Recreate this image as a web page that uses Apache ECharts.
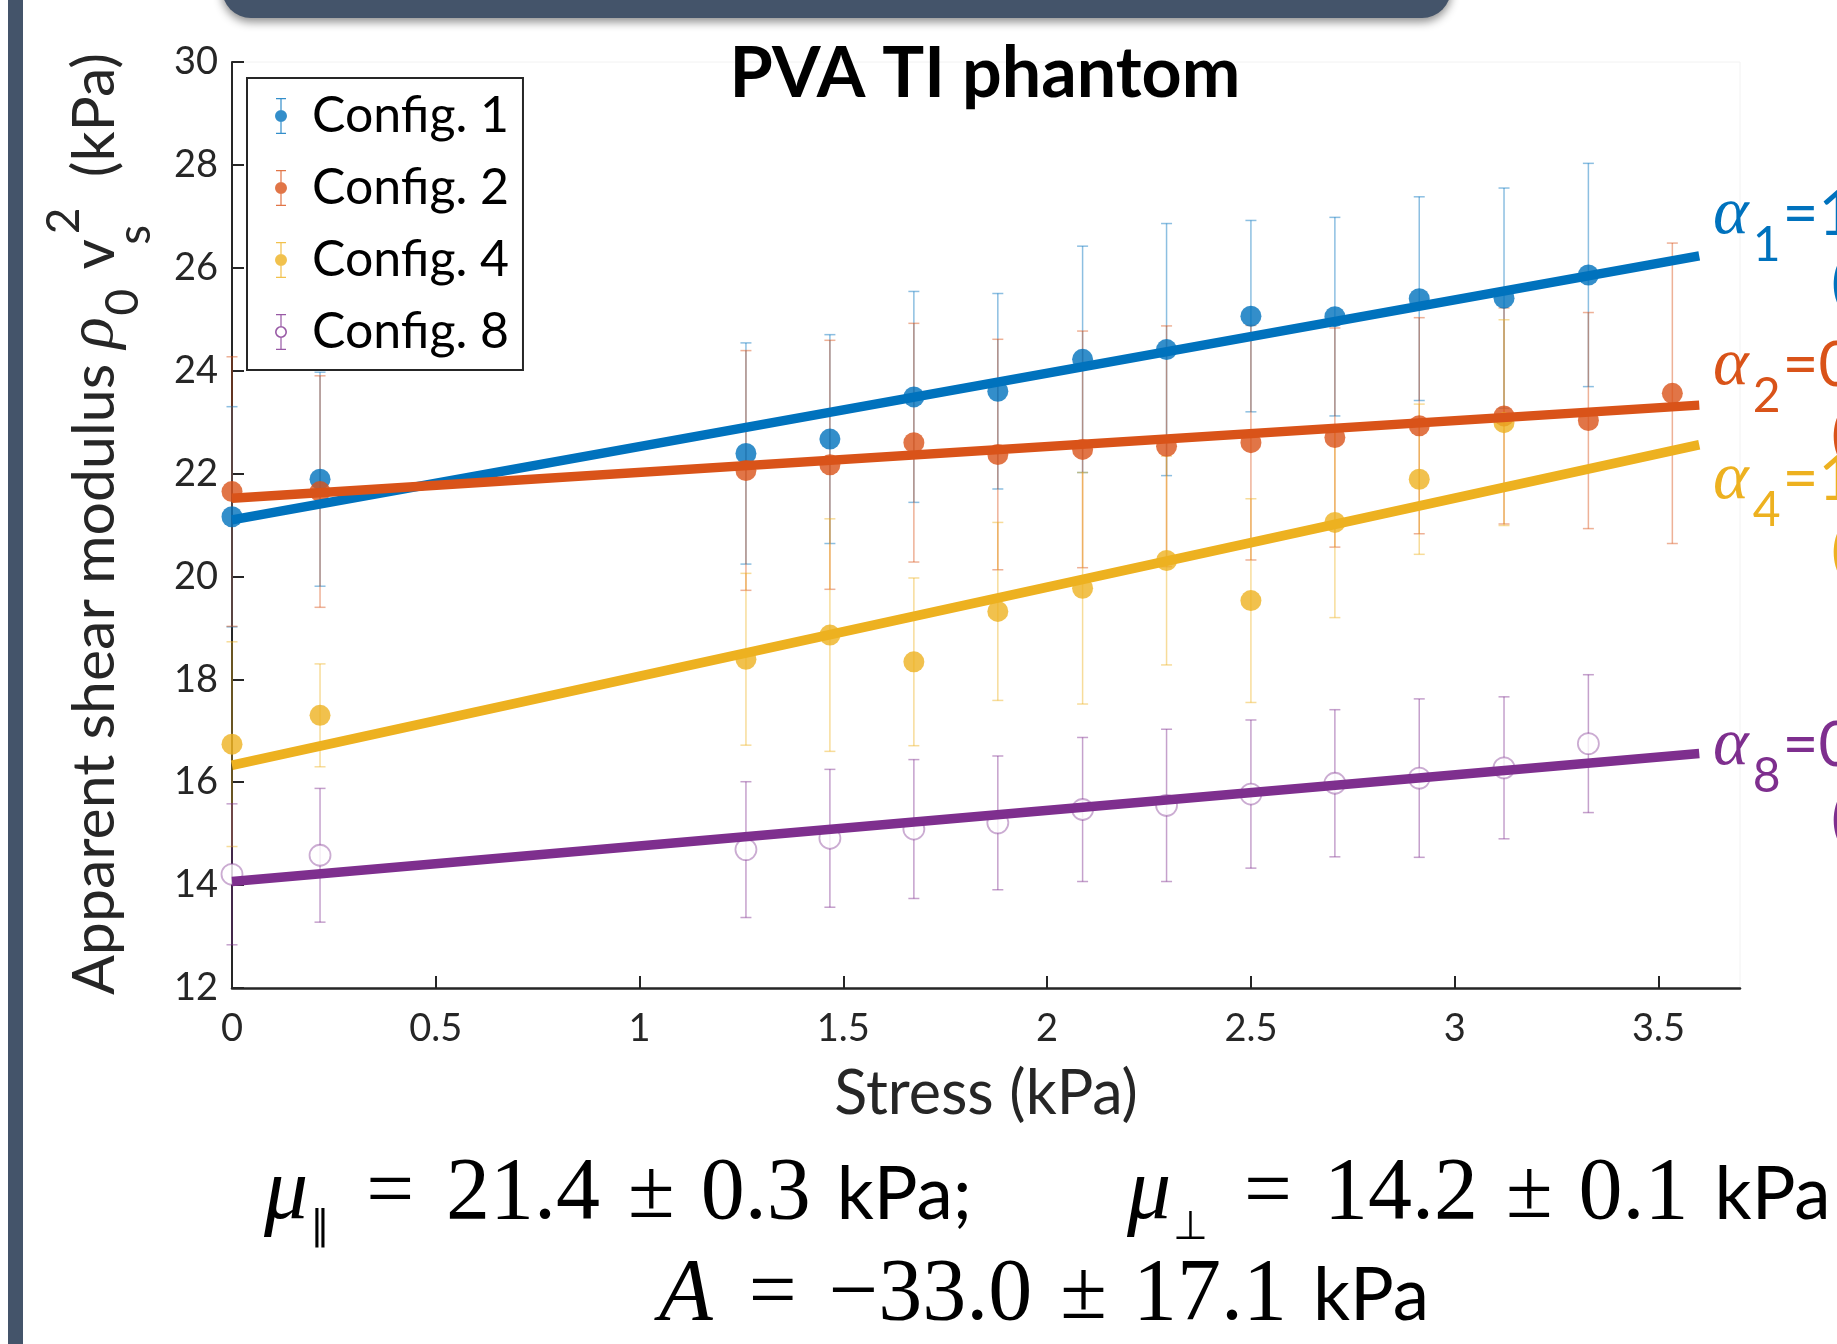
<!DOCTYPE html>
<html>
<head>
<meta charset="utf-8">
<title>PVA TI phantom</title>
<script src="https://cdn.jsdelivr.net/npm/echarts@6/dist/echarts.min.js"></script>
<style>
  html, body { margin: 0; padding: 0; background: #fff; }
  #chart { width: 1837px; height: 1344px; }
</style>
</head>
<body>
<div id="chart"></div>
<script>
// stress levels (kPa) shared by all configurations
const stress = [0, 0.216, 1.261, 1.467, 1.673, 1.879, 2.087, 2.293, 2.5, 2.706, 2.913, 3.121, 3.328, 3.534];

// apparent shear modulus (kPa) and its error, per configuration
const c1Mean = [21.16, 21.89, 22.39, 22.67, 23.49, 23.60, 24.22, 24.41, 25.06, 25.05, 25.40, 25.41, 25.86];
const c1Err  = [2.14, 2.08, 2.15, 2.03, 2.05, 1.90, 2.20, 2.45, 1.86, 1.93, 1.98, 2.14, 2.17];
const c2Mean = [21.65, 21.65, 22.06, 22.17, 22.60, 22.37, 22.47, 22.53, 22.60, 22.70, 22.93, 23.12, 23.03, 23.56];
const c2Err  = [2.62, 2.25, 2.33, 2.42, 2.32, 2.24, 2.30, 2.34, 2.28, 2.13, 2.10, 2.10, 2.10, 2.92];
const c4Mean = [16.74, 17.30, 18.39, 18.86, 18.34, 19.32, 19.77, 20.31, 19.53, 21.05, 21.89, 22.99];
const c4Err  = [1.99, 1.00, 1.67, 2.26, 1.63, 1.73, 2.25, 2.03, 1.98, 1.85, 1.46, 2.00];
const c8Mean = [14.21, 14.58, 14.69, 14.91, 15.09, 15.21, 15.47, 15.55, 15.77, 15.98, 16.08, 16.28, 16.75];
const c8Err  = [1.37, 1.30, 1.32, 1.34, 1.35, 1.30, 1.40, 1.48, 1.44, 1.43, 1.54, 1.38, 1.34];

// linear fits, evaluated at the ends of the fitted range
const fitX = [0, 3.6];
const fit1 = [21.10, 26.23];
const fit2 = [21.52, 23.33];
const fit4 = [16.33, 22.56];
const fit8 = [14.07, 16.56];

const configNames = ['Config. 1', 'Config. 2', 'Config. 4', 'Config. 8'];
const alphaSubs = ['1', '2', '4', '8'];
const alphaTails = ['=1', '=0', '=1', '=0'];
const xTicks = [0, 0.5, 1, 1.5, 2, 2.5, 3, 3.5];

const colors = ['#0072BD', '#D95319', '#EDB120', '#7E2F8E'];
const barColors = ['rgba(0,114,189,0.45)', 'rgba(217,83,25,0.45)', 'rgba(237,177,32,0.45)', 'rgba(126,47,142,0.45)'];

const means = [c1Mean, c2Mean, c4Mean, c8Mean];
const errs = [c1Err, c2Err, c4Err, c8Err];
const fits = [fit1, fit2, fit4, fit8];

// errorbar glyph for the legend (solid and hollow marker)
const solidIcon = 'path://M1,0H11V1.2H1Z M5.4,0H6.6V36H5.4Z M1,34.8H11V36H1Z M6,12A6,6 0 1,1 6,24A6,6 0 1,1 6,12Z';
const hollowIcon = 'path://M1,0H11V1.2H1Z M5.4,0H6.6V12H5.4Z M5.4,24H6.6V36H5.4Z M1,34.8H11V36H1Z ' +
  'M6,12A6,6 0 1,1 6,24A6,6 0 1,1 6,12Z M6,13.6A4.4,4.4 0 1,0 6,22.4A4.4,4.4 0 1,0 6,13.6Z';

function errorBars(color) {
  return function (params, api) {
    const x = api.value(0), y = api.value(1), e = api.value(2);
    const top = api.coord([x, y + e]);
    const bot = api.coord([x, y - e]);
    const cw = 5.5;
    const style = { stroke: color, lineWidth: 1.5 };
    return {
      type: 'group',
      children: [
        { type: 'line', shape: { x1: top[0], y1: top[1], x2: bot[0], y2: bot[1] }, style: style },
        { type: 'line', shape: { x1: top[0] - cw, y1: top[1], x2: top[0] + cw, y2: top[1] }, style: style },
        { type: 'line', shape: { x1: bot[0] - cw, y1: bot[1], x2: bot[0] + cw, y2: bot[1] }, style: style }
      ]
    };
  };
}

const series = [];
configNames.forEach(function (name, i) {
  const pts = means[i].map(function (m, j) { return [stress[j], m, errs[i][j]]; });
  series.push({
    name: name + ' err',
    type: 'custom',
    renderItem: errorBars(barColors[i]),
    encode: { x: 0, y: 1 },
    data: pts,
    silent: true
  });
  series.push({
    name: name,
    type: 'scatter',
    symbol: 'circle',
    symbolSize: 21,
    itemStyle: i === 3
      ? { color: '#fff', borderColor: 'rgba(126,47,142,0.5)', borderWidth: 1.8 }
      : { color: colors[i] },
    data: pts.map(function (p) { return [p[0], p[1]]; })
  });
  series.push({
    name: name + ' fit',
    type: 'line',
    showSymbol: false,
    lineStyle: { color: colors[i], width: 9.5 },
    data: fitX.map(function (x, k) { return [x, fits[i][k]]; })
  });
});

// right-hand annotations and equations
const alphaY = [215, 366, 480, 746];
const parenY = [284, 436, 552, 820];
const graphics = [
  { type: 'rect', shape: { x: 8, y: 0, width: 15, height: 1344 }, style: { fill: '#44546A' } },
  { type: 'rect', shape: { x: 222, y: -40, width: 1229, height: 58, r: 30 },
    style: { fill: '#44546A', shadowBlur: 10, shadowColor: 'rgba(0,0,0,0.45)', shadowOffsetY: 4 } }
];
configNames.forEach(function (name, i) {
  const c = colors[i];
  graphics.push({
    type: 'text', x: 1713, y: alphaY[i],
    style: {
      text: '{a|α}{s|' + alphaSubs[i] + '}{e|' + alphaTails[i] + '}',
      align: 'left', verticalAlign: 'middle', textAlign: 'left', textVerticalAlign: 'middle',
      fill: c,
      rich: {
        a: { fontFamily: 'Liberation Serif', fontStyle: 'italic', fontSize: 68, fill: c, color: c },
        s: { fontFamily: 'Lato', fontSize: 48, padding: [62, 2, 0, 4], fill: c, color: c },
        e: { fontFamily: 'Lato', fontSize: 62, fill: c, color: c }
      }
    }
  });
  graphics.push({
    type: 'text', x: 1831, y: parenY[i],
    style: { text: '(', fontFamily: 'Lato', fontSize: 60, fill: c, align: 'left', verticalAlign: 'middle',
      textAlign: 'left', textVerticalAlign: 'middle' }
  });
});

const eqRich = {
  mu: { fontFamily: 'Liberation Serif', fontStyle: 'italic', fontSize: 88, fill: '#000', color: '#000' },
  sub: { fontFamily: 'DejaVu Sans', fontSize: 40, padding: [68, 0, 0, 2], fill: '#000', color: '#000' },
  eq: { fontFamily: 'Liberation Serif', fontSize: 85, padding: [0, 32, 0, 36], fill: '#000', color: '#000' },
  num: { fontFamily: 'Liberation Serif', fontSize: 88, fill: '#000', color: '#000' },
  pm: { fontFamily: 'Liberation Serif', fontSize: 85, padding: [0, 26, 0, 28], fill: '#000', color: '#000' },
  unit: { fontFamily: 'Lato', fontSize: 73, padding: [0, 0, 0, 26], fill: '#000', color: '#000' }
};
function eqText(x, y, text) {
  return {
    type: 'text', x: x, y: y,
    style: { text: text, rich: eqRich, fill: '#000', align: 'left', verticalAlign: 'middle',
      textAlign: 'left', textVerticalAlign: 'middle' }
  };
}
graphics.push(eqText(264, 1195, '{mu|μ}{sub|∥}{eq|=}{num|21.4}{pm|±}{num|0.3}{unit|kPa;}'));
graphics.push(eqText(1127, 1195, '{mu|μ}{sub|⊥}{eq|=}{num|14.2}{pm|±}{num|0.1}{unit|kPa}'));
graphics.push(eqText(659, 1296, '{mu|A}{eq|=}{num|−33.0}{pm|±}{num|17.1}{unit|kPa}'));

// y axis title with sub/superscripts
const yc = '#262626';
graphics.push({
  type: 'text', x: 95, y: 524, rotation: Math.PI / 2,
  style: {
    text: '{t|Apparent shear modulus }{r|ρ}{b|0}{t| v}{bs|s}{p|2}{t|  (kPa)}',
    align: 'center', verticalAlign: 'middle', textAlign: 'center', textVerticalAlign: 'middle',
    fill: yc,
    rich: {
      t: { fontFamily: 'Lato', fontSize: 59, fill: yc, color: yc },
      r: { fontFamily: 'Liberation Serif', fontStyle: 'italic', fontSize: 65, fill: yc, color: yc },
      b: { fontFamily: 'Lato', fontSize: 46, padding: [56, 4, 0, 2], fill: yc, color: yc },
      bs: { fontFamily: 'Lato', fontSize: 46, padding: [80, 0, 0, 4], width: 1, fill: yc, color: yc },
      p: { fontFamily: 'Lato', fontSize: 46, padding: [0, 0, 62, 0], fill: yc, color: yc }
    }
  }
});

const chart = echarts.init(document.getElementById('chart'));
chart.setOption({
  animation: false,
  backgroundColor: '#fff',
  title: {
    text: 'PVA TI phantom',
    left: 980, top: 34, textAlign: 'center',
    textStyle: { fontFamily: 'Lato', fontWeight: 'bold', fontSize: 70, color: '#000' }
  },
  grid: { left: 232, top: 62, right: 97, bottom: 356, show: true, borderColor: '#f2f2f2', borderWidth: 1 },
  legend: {
    orient: 'vertical', left: 247, top: 78,
    padding: [13, 14, 13, 28], itemGap: 22, itemWidth: 12, itemHeight: 36,
    borderColor: '#262626', borderWidth: 2, backgroundColor: '#fff',
    selectedMode: false,
    textStyle: { fontFamily: 'Lato', fontSize: 50, color: '#000', lineHeight: 48, padding: [0, 0, 0, 20] },
    data: configNames.map(function (n, i) {
      return { name: n, icon: i === 3 ? hollowIcon : solidIcon, itemStyle: { color: colors[i], borderWidth: 0 } };
    })
  },
  xAxis: {
    type: 'value', min: 0, max: 3.7, interval: 0.5,
    name: 'Stress (kPa)', nameLocation: 'middle', nameGap: 76,
    nameTextStyle: { fontFamily: 'Lato', fontSize: 61, color: '#262626' },
    axisLine: { lineStyle: { color: '#262626', width: 2.5 } },
    axisTick: { inside: true, length: 12, customValues: xTicks, lineStyle: { color: '#262626', width: 2 } },
    axisLabel: { customValues: xTicks, fontFamily: 'Lato', fontSize: 38, color: '#262626', margin: 22 },
    splitLine: { show: false }
  },
  yAxis: {
    type: 'value', min: 12, max: 30, interval: 2,
    axisLine: { show: true, lineStyle: { color: '#262626', width: 2 } },
    axisTick: { show: true, inside: true, length: 12, lineStyle: { color: '#262626', width: 2 } },
    axisLabel: { fontFamily: 'Lato', fontSize: 38, color: '#262626', margin: 14 },
    splitLine: { show: false }
  },
  graphic: graphics,
  series: series
});
</script>
</body>
</html>
